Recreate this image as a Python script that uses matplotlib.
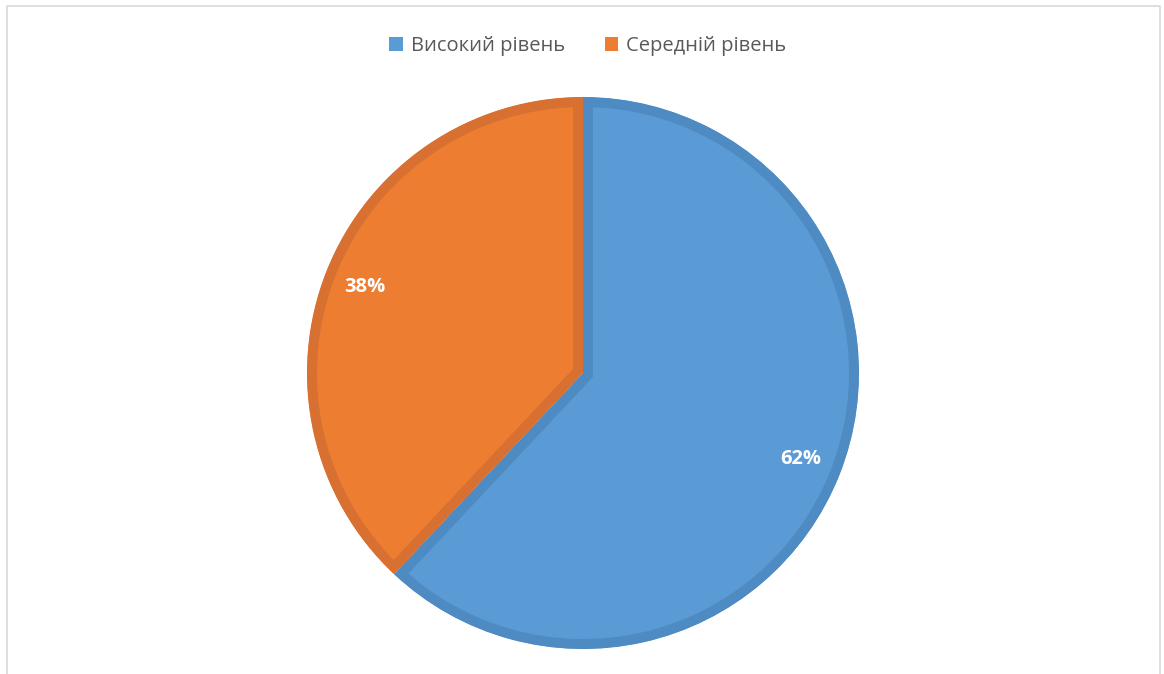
import matplotlib
matplotlib.use("Agg")
import matplotlib.pyplot as plt
from matplotlib.lines import Line2D
from matplotlib.patches import Patch

labels = ["Високий рівень", "Середній рівень"]
shares = [62, 38]
fill_colors = ["#5B9BD5", "#ED7D31"]
edge_colors = ["#4F8BC3", "#D77030"]

W, H, DPI = 1164, 674, 100
fig = plt.figure(figsize=(W / DPI, H / DPI), dpi=DPI)

# pie centre and radius in pixels
cx, cy, r = 583, 373, 276
ax = fig.add_axes([(cx - r) / W, (H - cy - r) / H, 2 * r / W, 2 * r / H])

wedges, texts, autotexts = ax.pie(
    shares, colors=fill_colors, startangle=90, counterclock=False,
    radius=1, autopct="%1.0f%%", pctdistance=0.85,
    wedgeprops=dict(linewidth=14.4),
    textprops=dict(color="white", fontsize=14.5, fontweight="bold", family="Open Sans"),
)
# darker border drawn only inside each slice
for w, ec in zip(wedges, edge_colors):
    w.set_edgecolor(ec)
    w.set_clip_on(True)
    w.set_clip_path(w)

ax.set_xlim(-1, 1)
ax.set_ylim(-1, 1)
ax.set_aspect("equal")

handles = [Patch(facecolor=c, edgecolor="none") for c in fill_colors]
fig.legend(handles, labels, loc="center", bbox_to_anchor=(0.505, 1 - 46 / H),
           ncol=2, frameon=False, handlelength=0.65, handleheight=0.65,
           handletextpad=0.4, columnspacing=2.0,
           prop=dict(family="Open Sans", size=14.5), labelcolor="#595959")

# light frame around the chart area (bottom edge falls outside)
x0, x1, y0 = 6.5 / W, 1159.5 / W, 1 - 5.5 / H
fig.add_artist(Line2D([x0, x0, x1, x1], [-0.01, y0, y0, -0.01],
                      transform=fig.transFigure, color="#D9D9D9", linewidth=1.2))

fig.savefig("out.png", dpi=DPI, facecolor="white")
